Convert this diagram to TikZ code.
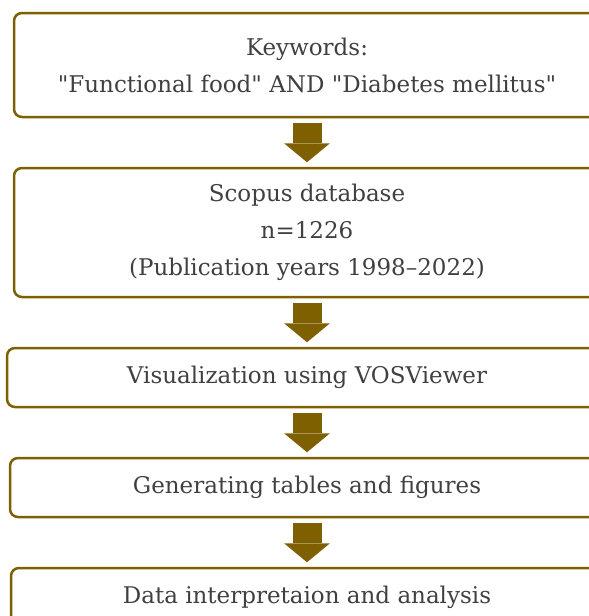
\documentclass[tikz,border=0pt]{standalone}
\usepackage{fontspec}
\newfontfamily\flowfont{DejaVu Serif}
\usetikzlibrary{arrows.meta, positioning}
\definecolor{flowgold}{RGB}{127, 96, 0}
\definecolor{flowtext}{RGB}{64, 64, 64}

\begin{document}
\begin{tikzpicture}[
        stepbox/.style={rectangle, rounded corners=8pt, draw=flowgold, line width=2.5pt, fill=white, minimum height=59pt, align=center, text=flowtext, font=\flowfont\fontsize{23}{37}\selectfont},
        blockarrow/.style={draw=flowgold, line width=29pt, -{Triangle[length=19pt, width=46pt, line width=0pt]}, shorten <=4.5pt, shorten >=4.5pt},
        node distance=48.5pt
    ]
        \useasboundingbox (0pt,0pt) rectangle (589pt,-616pt);
        \clip (0pt,0pt) rectangle (589pt,-616pt);
        \node[stepbox, minimum width=586pt, minimum height=104pt] (keywords) at (307pt,-65pt) {Keywords:\\"Functional food" AND "Diabetes mellitus"};
        \node[stepbox, minimum width=586pt, minimum height=129pt, below=of keywords] (scopus) {Scopus database\\n=1226\\(Publication years 1998–2022)};
        \node[stepbox, minimum width=600pt, below=of scopus] (vos) {Visualization using VOSViewer};
        \node[stepbox, minimum width=594pt, below=of vos] (tables) {Generating tables and figures};
        \node[stepbox, minimum width=592pt, below=of tables] (analysis) {Data interpretaion and analysis};
        \draw[blockarrow] (keywords.south) -- (scopus.north);
        \draw[blockarrow] (scopus.south) -- (vos.north);
        \draw[blockarrow] (vos.south) -- (tables.north);
        \draw[blockarrow] (tables.south) -- (analysis.north);
    \end{tikzpicture}
\end{document}
